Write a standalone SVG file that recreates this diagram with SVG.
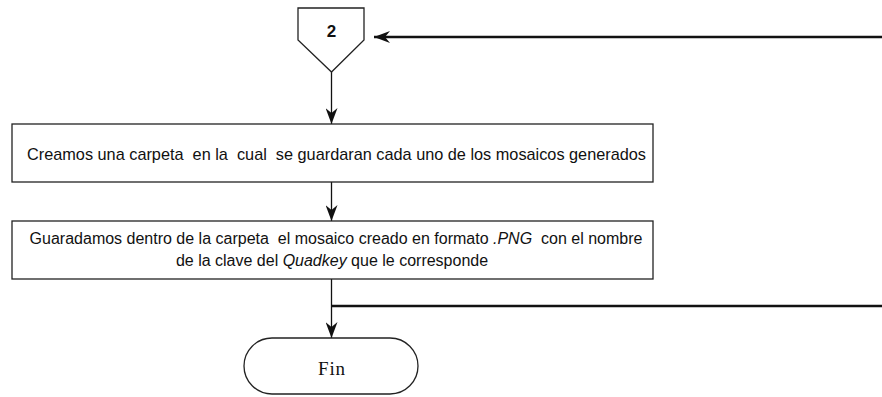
<svg xmlns="http://www.w3.org/2000/svg" width="882" height="397" viewBox="0 0 882 397">
<style>
.box{fill:#fff;stroke:#222;stroke-width:1.3}
.t{font-family:"Liberation Sans",Arial,sans-serif;font-size:17px;fill:#111;white-space:pre}
.t2{font-family:"Liberation Sans",Arial,sans-serif;font-size:16px;fill:#111;white-space:pre}
.c{stroke:#111;stroke-width:1.3;fill:none}
.thick{stroke:#111;stroke-width:2.6;fill:none}
</style>
<defs>
<marker id="ah" viewBox="0 0 16 12" refX="16" refY="6" markerWidth="16" markerHeight="12" markerUnits="userSpaceOnUse" orient="auto">
<path d="M0,0 L16,6 L0,12 L5,6 z" fill="#111"/>
</marker>
</defs>
<g id="connectors">
<line class="thick" x1="882" y1="37" x2="374" y2="37" marker-end="url(#ah)"/>
<line class="c" x1="331.5" y1="72" x2="331.5" y2="124" marker-end="url(#ah)"/>
<line class="c" x1="331.5" y1="182" x2="331.5" y2="221" marker-end="url(#ah)"/>
<line class="c" x1="331.5" y1="279" x2="331.5" y2="338" marker-end="url(#ah)"/>
<line class="thick" x1="331.5" y1="306" x2="882" y2="306"/>
</g>
<g id="node-connector-2">
<polygon class="box" points="298,8 364,8 364,40 331.5,72 298,40"/>
<text x="331.5" y="37" text-anchor="middle" style="font-family:'Liberation Sans',Arial,sans-serif;font-size:17px;font-weight:bold;fill:#111">2</text>
</g>
<g id="node-crear-carpeta">
<rect class="box" x="12" y="124" width="641" height="58"/>
<text class="t" x="27" y="160" textLength="619" lengthAdjust="spacingAndGlyphs">Creamos una carpeta  en la  cual  se guardaran cada uno de los mosaicos generados</text>
</g>
<g id="node-guardar-mosaico">
<rect class="box" x="12" y="221" width="641" height="58"/>
<text class="t2" x="336" y="244" text-anchor="middle">Guaradamos dentro de la carpeta  el mosaico creado en formato <tspan font-style="italic">.PNG</tspan>  con el nombre</text>
<text class="t2" x="332" y="266" text-anchor="middle">de la clave del <tspan font-style="italic">Quadkey</tspan> que le corresponde</text>
</g>
<g id="node-fin">
<rect class="box" x="244" y="338" width="174" height="56" rx="28" ry="28"/>
<text x="331.5" y="375" text-anchor="middle" textLength="27" lengthAdjust="spacing" style="font-family:'Liberation Serif','Times New Roman',serif;font-size:19px;fill:#111">Fin</text>
</g>
</svg>
